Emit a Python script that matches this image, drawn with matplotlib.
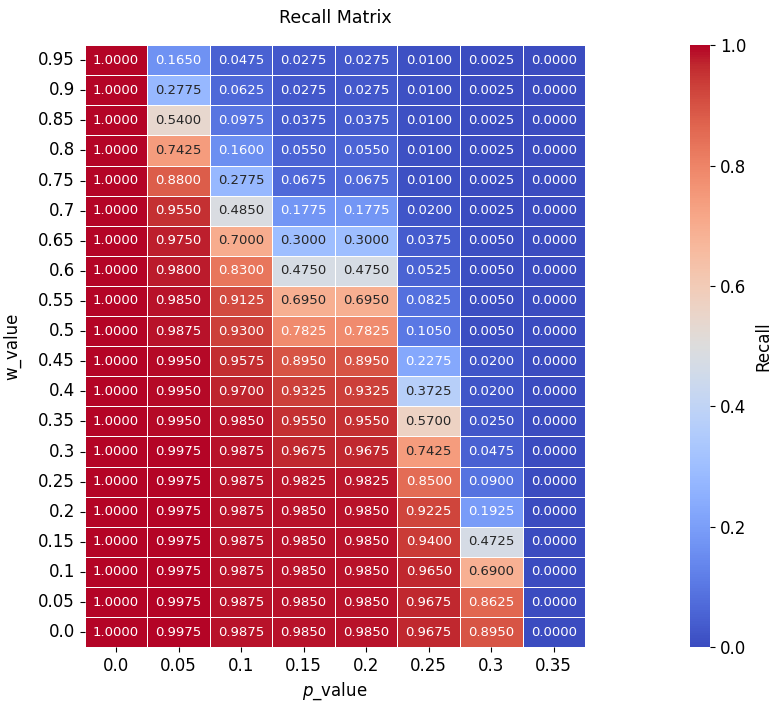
import numpy as np
import pandas as pd
import seaborn as sns
import matplotlib
matplotlib.use("Agg")
import matplotlib.pyplot as plt

# ejes
p_values = ["0.0", "0.05", "0.1", "0.15", "0.2", "0.25", "0.3", "0.35"]
w_values = ["0.95", "0.9", "0.85", "0.8", "0.75", "0.7", "0.65", "0.6", "0.55", "0.5",
            "0.45", "0.4", "0.35", "0.3", "0.25", "0.2", "0.15", "0.1", "0.05", "0.0"]

# recall por columna (p), filas de w=0.95 a w=0.0
recall_p000 = [1.0] * 20
recall_p005 = [0.1650, 0.2775, 0.5400, 0.7425, 0.8800, 0.9550, 0.9750, 0.9800, 0.9850, 0.9875,
               0.9950, 0.9950, 0.9950, 0.9975, 0.9975, 0.9975, 0.9975, 0.9975, 0.9975, 0.9975]
recall_p010 = [0.0475, 0.0625, 0.0975, 0.1600, 0.2775, 0.4850, 0.7000, 0.8300, 0.9125, 0.9300,
               0.9575, 0.9700, 0.9850, 0.9875, 0.9875, 0.9875, 0.9875, 0.9875, 0.9875, 0.9875]
recall_p015 = [0.0275, 0.0275, 0.0375, 0.0550, 0.0675, 0.1775, 0.3000, 0.4750, 0.6950, 0.7825,
               0.8950, 0.9325, 0.9550, 0.9675, 0.9825, 0.9850, 0.9850, 0.9850, 0.9850, 0.9850]
recall_p020 = [0.0275, 0.0275, 0.0375, 0.0550, 0.0675, 0.1775, 0.3000, 0.4750, 0.6950, 0.7825,
               0.8950, 0.9325, 0.9550, 0.9675, 0.9825, 0.9850, 0.9850, 0.9850, 0.9850, 0.9850]
recall_p025 = [0.0100, 0.0100, 0.0100, 0.0100, 0.0100, 0.0200, 0.0375, 0.0525, 0.0825, 0.1050,
               0.2275, 0.3725, 0.5700, 0.7425, 0.8500, 0.9225, 0.9400, 0.9650, 0.9675, 0.9675]
recall_p030 = [0.0025, 0.0025, 0.0025, 0.0025, 0.0025, 0.0025, 0.0050, 0.0050, 0.0050, 0.0050,
               0.0200, 0.0200, 0.0250, 0.0475, 0.0900, 0.1925, 0.4725, 0.6900, 0.8625, 0.8950]
recall_p035 = [0.0] * 20

df = pd.DataFrame(
    np.column_stack([recall_p000, recall_p005, recall_p010, recall_p015,
                     recall_p020, recall_p025, recall_p030, recall_p035]),
    index=w_values, columns=p_values)

fig = plt.figure(figsize=(7.78, 7.05), dpi=100)
ax = fig.add_axes([0.109, 0.082, 0.643, 0.854])
cax = fig.add_axes([0.887, 0.082, 0.026, 0.854])

sns.heatmap(df, ax=ax, cbar_ax=cax, cmap="coolwarm", vmin=0, vmax=1,
            annot=True, fmt=".4f", annot_kws={"size": 9.5},
            linewidths=0.5, linecolor="white",
            cbar_kws={"label": "Recall"})

ax.set_title("Recall Matrix", fontsize=12.5, pad=16)
ax.set_xlabel("$p$_value", fontsize=12, labelpad=4)
ax.set_ylabel("w_value", fontsize=12, labelpad=12)
ax.tick_params(axis="both", labelsize=12)
plt.setp(ax.get_yticklabels(), rotation=0)
plt.setp(ax.get_xticklabels(), rotation=0)
cax.tick_params(labelsize=12)
cax.set_ylabel("Recall", fontsize=12, labelpad=6)

fig.savefig("out.png", dpi=100)
print("ok: out.png")
